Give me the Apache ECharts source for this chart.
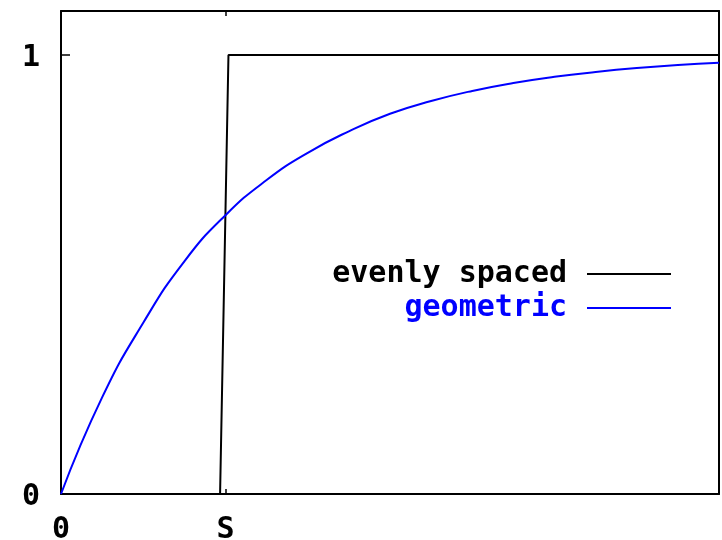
<!DOCTYPE html>
<html>
<head>
<meta charset="utf-8">
<script src="https://cdn.jsdelivr.net/npm/echarts@6/dist/echarts.min.js"></script>
<style>
  html, body { margin: 0; padding: 0; background: #fff; }
  #chart { width: 722px; height: 540px; }
</style>
</head>
<body>
<div id="chart"></div>
<script>
// Tick positions and their labels
const xTickValues = [0, 1];
const xTickLabels = ['0', 'S'];
const yTickValues = [0, 1];
const yTickLabels = ['0', '1'];

// "evenly spaced": jumps from 0 to 1 around S
const evenX = [0, 0.967, 1.018, 4];
const evenY = [0, 0, 1, 1];

// "geometric": smooth rise towards 1
const geoX = [0, 0.25, 0.5, 0.75, 1, 1.25, 1.5, 1.75, 2, 2.25, 2.5, 2.75, 3, 3.25, 3.5, 3.75, 4];
const geoY = [0, 0.22, 0.39, 0.53, 0.635, 0.715, 0.777, 0.826, 0.866, 0.895, 0.918, 0.936, 0.95, 0.961, 0.97, 0.977, 0.982];

const FONT = '"DejaVu Sans Mono", "Liberation Mono", monospace';
const BLUE = '#0000ff';

const zip = (xs, ys) => xs.map((x, i) => [x, ys[i]]);

const chart = echarts.init(document.getElementById('chart'), null, { renderer: 'canvas' });

const axisLine = { show: true, onZero: false, lineStyle: { color: '#000', width: 2 } };
const tickStyle = { color: '#000', width: 1.5 };
const labelFont = { fontFamily: FONT, fontWeight: 'bold', fontSize: 30, color: '#000' };

const legendText = { fontFamily: FONT, fontWeight: 'bold', fontSize: 30, lineHeight: 30, padding: [0, 15, 0, 0] };

chart.setOption({
  animation: false,
  backgroundColor: '#fff',
  grid: { left: 61, right: 3, top: 11, bottom: 46, containLabel: false, outerBoundsMode: 'none' },
  xAxis: [
    {
      type: 'value', position: 'bottom', min: 0, max: 4,
      axisLine: axisLine,
      splitLine: { show: false },
      axisTick: { show: true, inside: true, length: 5, customValues: xTickValues, lineStyle: tickStyle },
      axisLabel: Object.assign({
        show: true, customValues: xTickValues,
        formatter: v => xTickLabels[xTickValues.indexOf(v)],
        margin: 36, verticalAlign: 'middle'
      }, labelFont)
    },
    {
      type: 'value', position: 'top', min: 0, max: 4,
      axisLine: axisLine,
      splitLine: { show: false },
      axisTick: { show: true, inside: true, length: 5, customValues: xTickValues, lineStyle: tickStyle },
      axisLabel: { show: false }
    }
  ],
  yAxis: [
    {
      type: 'value', position: 'left', min: 0, max: 1.1,
      axisLine: axisLine,
      splitLine: { show: false },
      axisTick: { show: true, inside: true, length: 9, customValues: yTickValues, lineStyle: tickStyle },
      axisLabel: Object.assign({
        show: true, customValues: yTickValues,
        formatter: v => '{t|' + yTickLabels[yTickValues.indexOf(v)] + '}',
        margin: 30, align: 'center',
        rich: { t: Object.assign({ padding: [6, 0, 0, 0] }, labelFont) }
      }, labelFont)
    },
    {
      type: 'value', position: 'right', min: 0, max: 1.1,
      axisLine: axisLine,
      splitLine: { show: false },
      axisTick: { show: true, inside: true, length: 9, customValues: yTickValues, lineStyle: tickStyle },
      axisLabel: { show: false }
    }
  ],
  legend: [
    {
      orient: 'vertical', right: 46, top: 254, align: 'right',
      icon: 'rect', itemWidth: 84, itemHeight: 2,
      textStyle: legendText,
      data: [{ name: 'evenly spaced', textStyle: { color: '#000' } }]
    },
    {
      orient: 'vertical', right: 46, top: 288, align: 'right',
      icon: 'rect', itemWidth: 84, itemHeight: 2,
      textStyle: legendText,
      data: [{ name: 'geometric', textStyle: { color: BLUE } }]
    }
  ],
  series: [
    {
      name: 'evenly spaced', type: 'line', showSymbol: false, symbol: 'none',
      color: '#000', lineStyle: { color: '#000', width: 2 },
      data: zip(evenX, evenY), z: 3
    },
    {
      name: 'geometric', type: 'line', showSymbol: false, symbol: 'none', smooth: true,
      color: BLUE, lineStyle: { color: BLUE, width: 2 },
      data: zip(geoX, geoY), z: 4
    }
  ]
});
</script>
</body>
</html>
